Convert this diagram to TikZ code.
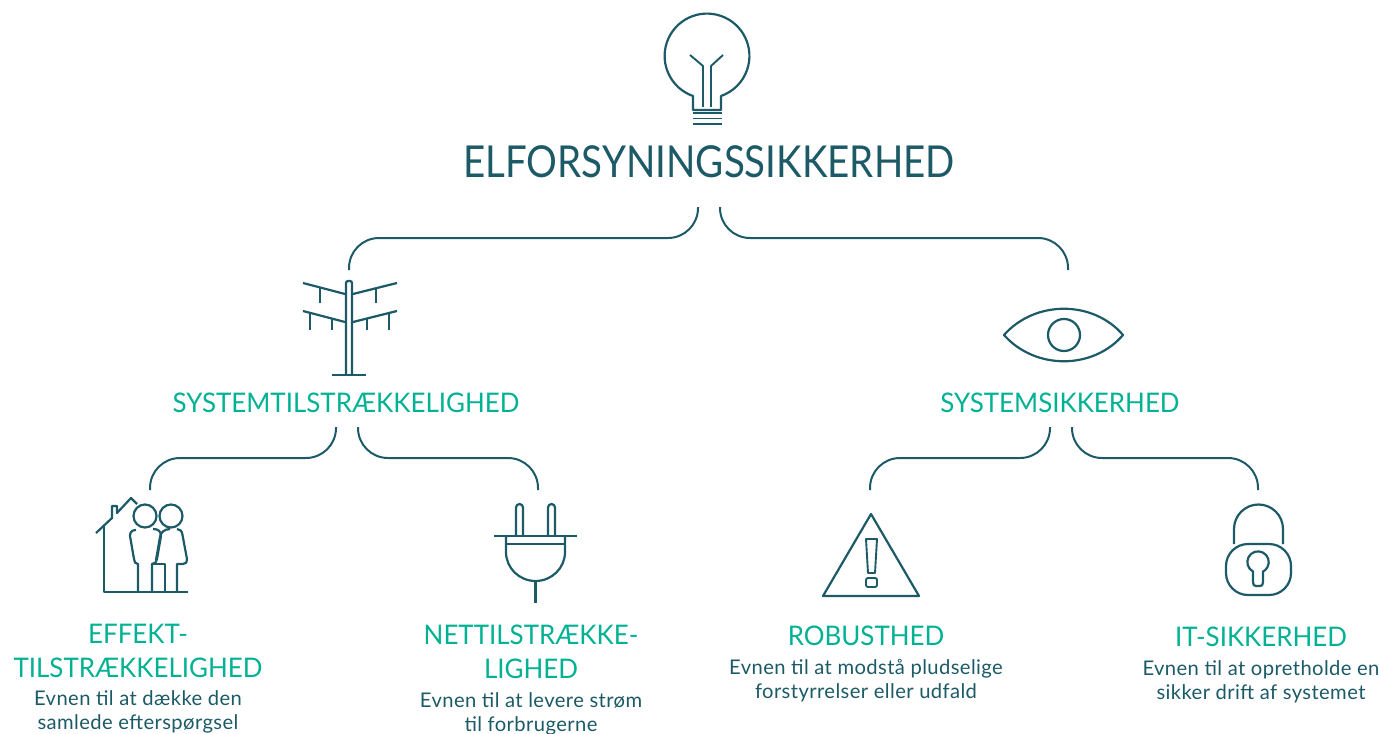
\documentclass[tikz,border=0pt]{standalone}
\usepackage{fontspec}
\setmainfont{Lato}
\newfontfamily\titlefont[FakeStretch=0.875]{Lato}
\newfontfamily\headfont[FakeStretch=0.96]{Lato}
\newfontfamily\bodyfont[LetterSpace=2.0]{Lato}
\usepackage{xcolor}
\usepackage{tikz}
\usetikzlibrary{positioning,calc}
\definecolor{darkteal}{HTML}{1B5A66}
\definecolor{mintgreen}{HTML}{00B193}
\tikzset{icon/.style={draw=darkteal,line width=1.1pt,line join=round}}
\tikzset{thinicon/.style={draw=darkteal,line width=0.95pt,line join=round}}
\tikzset{link/.style={draw=darkteal,line width=1pt,rounded corners=15pt}}
\tikzset{titletext/.style={text=darkteal,inner sep=0pt,font=\titlefont\fontsize{22}{26}\selectfont}}
\tikzset{headtext/.style={text=mintgreen,inner sep=0pt,align=center,font=\headfont\fontsize{13.5}{17}\selectfont}}
\tikzset{bodytext/.style={text=darkteal,inner sep=0pt,align=center,font=\bodyfont\fontsize{10.1}{12.2}\selectfont}}

\begin{document}
\begin{tikzpicture}[x=0.5pt,y=-0.5pt]
    \useasboundingbox (0,0) rectangle (1380,733);

    \node[titletext] (title) at (709,162) {ELFORSYNINGSSIKKERHED};
    \node[headtext] (adequacy) at (346,402.5) {SYSTEMTILSTRÆKKELIGHED};
    \node[headtext] (security) at (1060,402.5) {SYSTEMSIKKERHED};
    \node[headtext] (effekt) at (138,651) {EFFEKT-\\TILSTRÆKKELIGHED};
    \node[headtext] (nett) at (531,652) {NETTILSTRÆKKE-\\LIGHED};
    \node[headtext] (robust) at (866,635.5) {ROBUSTHED};
    \node[headtext] (itsik) at (1261,636.5) {IT-SIKKERHED};
    \node[bodytext] (effektb) at (138,712) {Evnen til at dække den\\samlede efterspørgsel};
    \node[bodytext] (nettb) at (531,714) {Evnen til at levere strøm\\til forbrugerne};
    \node[bodytext] (robustb) at (866,680.5) {Evnen til at modstå pludselige\\forstyrrelser eller udfald};
    \node[bodytext] (itsikb) at (1261,681.5) {Evnen til at opretholde en\\sikker drift af systemet};

    \coordinate (titleL) at (698,207);
    \coordinate (titleR) at (720,207);
    \coordinate (adeqtop) at (349,270);
    \coordinate (sectop) at (1068,270);
    \coordinate (adeqL) at (336,427);
    \coordinate (adeqR) at (358,427);
    \coordinate (secL) at (1050,427);
    \coordinate (secR) at (1072,427);
    \coordinate (effekttop) at (150,490);
    \coordinate (netttop) at (538,490);
    \coordinate (robusttop) at (870,490);
    \coordinate (itsiktop) at (1258,490);

    \draw[link] (titleL) -- (titleL |- 0,238) -- (adeqtop |- 0,238) -- (adeqtop);
    \draw[link] (titleR) -- (titleR |- 0,238) -- (sectop |- 0,238) -- (sectop);
    \draw[link] (adeqL) -- (adeqL |- 0,458) -- (effekttop |- 0,458) -- (effekttop);
    \draw[link] (adeqR) -- (adeqR |- 0,458) -- (netttop |- 0,458) -- (netttop);
    \draw[link] (secL) -- (secL |- 0,458) -- (robusttop |- 0,458) -- (robusttop);
    \draw[link] (secR) -- (secR |- 0,458) -- (itsiktop |- 0,458) -- (itsiktop);

    % bulb
    \draw[icon] (693,96) arc (109.3:430.7:42.4) -- (721,110) -- (693,110) -- cycle;
    \draw[thinicon] (690,55) -- (703,66) -- (703,107);
    \draw[thinicon] (723,55) -- (711,66) -- (711,107);
    \draw[thinicon] (693,113) -- (722,113);
    \draw[thinicon] (693,118.5) -- (722,118.5);
    \draw[thinicon] (693,124) -- (722,124);

    % pylon
    \draw[icon,rounded corners=1pt] (346,375) -- (346,281) -- (352,281) -- (352,375);
    \draw[icon] (332,375) -- (366,375);
    \draw[icon] (303,283) -- (345,294);
    \draw[icon] (353,294) -- (397,283);
    \draw[icon] (303,311) -- (345,322);
    \draw[icon] (353,322) -- (397,311);
    \draw[icon] (320,288) -- (320,303);
    \draw[icon] (376,288) -- (376,303);
    \draw[icon] (310,313) -- (310,330);
    \draw[icon] (332,318) -- (332,330);
    \draw[icon] (367,318) -- (367,330);
    \draw[icon] (389,313) -- (389,330);

    % house and people
    \draw[icon] (96,533) -- (112,518) -- (112,506) -- (117,506) -- (117,513) -- (131,498) -- (137,504);
    \draw[icon] (104,526) -- (104,592) -- (188,592);
    \draw[icon] (145,516) circle (11.5);
    \draw[icon] (171,516) circle (11.5);
    \draw[icon] (136,530) .. controls (132,530) and (130,532) .. (130,536) -- (134,559) .. controls (134.5,562) and (135,564) .. (138,564) -- (138,592);
    \draw[icon] (153,529) .. controls (158,529) and (161,531) .. (161,536) -- (157,559) .. controls (156.5,562) and (155,564) .. (152,564) -- (152,592);
    \draw[icon] (170,529) .. controls (164,529) and (160.5,533) .. (160,537) -- (156,560);
    \draw[icon] (152,564) -- (165,564) -- (165,592);
    \draw[icon] (177,529) .. controls (180,529) and (182,531) .. (182.5,535) -- (187,559) .. controls (187.5,562) and (186,564) .. (183,564) -- (177,564) -- (177,592);

    % plug
    \draw[icon] (494,536) -- (577,536);
    \draw[icon] (516,536) -- (516,507.5) arc (180:360:3.5) -- (523,536);
    \draw[icon] (548,536) -- (548,507.5) arc (180:360:3.5) -- (555,536);
    \draw[icon] (506,544) -- (565,544);
    \draw[icon] (506,536) -- (506,552) arc (180:0:29.5 and 29) -- (565,536);
    \draw[icon] (535.5,581) -- (535.5,603);

    % warning sign
    \draw[icon] (871,514) -- (919,596) -- (823,596) -- cycle;
    \draw[thinicon] (866,539) -- (877,539) -- (875,573) -- (868,573) -- cycle;
    \draw[thinicon,rounded corners=1pt] (866,578) rectangle (877,587);

    % lock
    \draw[icon] (1234,544) -- (1234,529) arc (180:360:24.5) -- (1283,544);
    \draw[icon,rounded corners=11pt] (1226,544) rectangle (1291,595);
    \draw[icon] (1253,571.5) arc (118:422:10.7) -- (1263,582) .. controls (1263,585) and (1262,586) .. (1260,586) -- (1256,586) .. controls (1254,586) and (1253,585) .. (1253,582) -- cycle;

    % eye
    \draw[icon] (1004,335) .. controls (1035,300) and (1093,300) .. (1123,335) .. controls (1093,370) and (1035,370) .. (1004,335) -- cycle;
    \draw[icon] (1064,335) circle (16);
\end{tikzpicture}
\end{document}
